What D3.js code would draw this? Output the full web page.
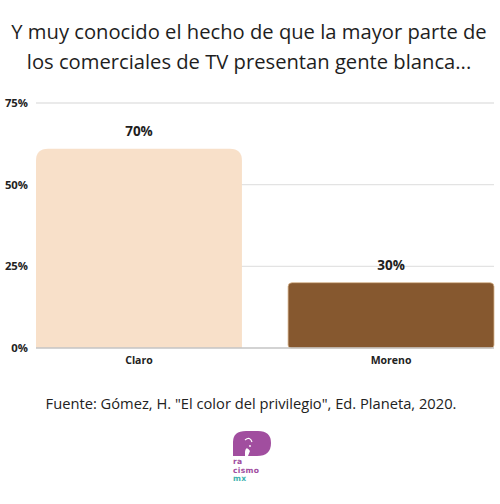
<!DOCTYPE html>
<html><head><meta charset="utf-8">
<script src="https://cdn.jsdelivr.net/npm/d3@7"></script>
<style>body{margin:0;background:#fff}svg{display:block}</style>
</head><body>
<script>
const categories = ["Claro", "Moreno"];
const values = [61, 20];
const valueLabels = ["70%", "30%"];
const barColors = ["#F8E0C9", "#86582F"];
const yTicks = [0, 25, 50, 75];
const titleLines = ["Y muy conocido el hecho de que la mayor parte de", "los comerciales de TV presentan gente blanca..."];
const source = "Fuente: Gómez, H. \"El color del privilegio\", Ed. Planeta, 2020.";
const logoLines = ["ra", "cismo", "mx"];

const W = 500, H = 504;
const svg = d3.select("body").append("svg").attr("width", W).attr("height", H);
const font = "'Open Sans', sans-serif";

svg.selectAll("text.title").data(titleLines).join("text")
  .attr("x", 249).attr("y", (d, i) => 39 + i * 30)
  .attr("text-anchor", "middle").attr("font-family", font).attr("font-size", 20.2)
  .attr("fill", "#1e1e1e").text(d => d);

const x = d3.scaleBand().domain(categories).range([36, 494]).paddingInner(0.183).paddingOuter(0);
const y = d3.scaleLinear().domain([0, 75]).range([348, 103]);

svg.selectAll("line.grid").data(yTicks.filter(d => d > 0)).join("line")
  .attr("x1", 36).attr("x2", 494).attr("y1", d => y(d)).attr("y2", d => y(d))
  .attr("stroke", "#e3e3e3").attr("stroke-width", 1.3);

svg.selectAll("text.ytick").data(yTicks).join("text")
  .attr("x", 28).attr("y", d => y(d) + 4).attr("text-anchor", "end")
  .attr("font-family", font).attr("font-weight", 700).attr("font-size", 11.3)
  .attr("fill", "#222").text(d => d + "%");

function roundedTop(x0, x1, yt, yb, r, rb) {
  return `M${x0},${yb - rb} L${x0},${yt + r} Q${x0},${yt} ${x0 + r},${yt} L${x1 - r},${yt} Q${x1},${yt} ${x1},${yt + r} L${x1},${yb - rb} Q${x1},${yb} ${x1 - rb},${yb} L${x0 + rb},${yb} Q${x0},${yb} ${x0},${yb - rb} Z`;
}
const radii = [[12, 0], [4, 3]];
svg.selectAll("path.bar").data(categories).join("path")
  .attr("d", (d, i) => roundedTop(x(d), x(d) + x.bandwidth(), y(values[i]), y(0), radii[i][0], radii[i][1]))
  .attr("fill", (d, i) => barColors[i])
  .attr("stroke", (d, i) => i === 1 ? "#d9b790" : "none").attr("stroke-width", 0.8);

svg.append("line").attr("x1", 36).attr("x2", 494).attr("y1", y(0)).attr("y2", y(0))
  .attr("stroke", "#c4c4c4").attr("stroke-width", 1.3);

svg.selectAll("text.vl").data(categories).join("text")
  .attr("x", d => x(d) + x.bandwidth() / 2).attr("y", (d, i) => y(values[i]) - 13)
  .attr("text-anchor", "middle").attr("font-family", font).attr("font-weight", 700)
  .attr("font-size", 13.5).attr("fill", "#1e1e1e").text((d, i) => valueLabels[i]);

svg.selectAll("text.cat").data(categories).join("text")
  .attr("x", d => x(d) + x.bandwidth() / 2).attr("y", 364)
  .attr("text-anchor", "middle").attr("font-family", font).attr("font-weight", 700)
  .attr("font-size", 10.5).attr("fill", "#222").text(d => d);

svg.append("text").attr("x", 251).attr("y", 409).attr("text-anchor", "middle")
  .attr("font-family", font).attr("font-size", 14.7).attr("fill", "#222").text(source);

// logo
const logo = svg.append("g");
logo.append("path")
  .attr("d", "M233,456 L233,442 Q233,431 246,431 L258,431 Q271,431 271,443 Q271,456 257,456 L248,456 L250,451 Q246,445 245,452 L245,456 Z")
  .attr("fill", "#A14E9F");
logo.append("path").attr("d", "M245,440 Q250,436 252,442").attr("fill", "none").attr("stroke", "#fff").attr("stroke-width", 1.2);
logo.append("circle").attr("cx", 250).attr("cy", 446).attr("r", 0.9).attr("fill", "#fff");
logo.selectAll("text.logo").data(logoLines).join("text")
  .attr("x", 233).attr("y", (d, i) => 464 + i * 8.6)
  .attr("font-family", "'DejaVu Sans', sans-serif").attr("font-weight", 700)
  .attr("font-size", 7.6).attr("letter-spacing", 0.3)
  .attr("fill", (d, i) => i === 2 ? "#3FB3AE" : "#A14E9F").text(d => d);
</script>
</body></html>
